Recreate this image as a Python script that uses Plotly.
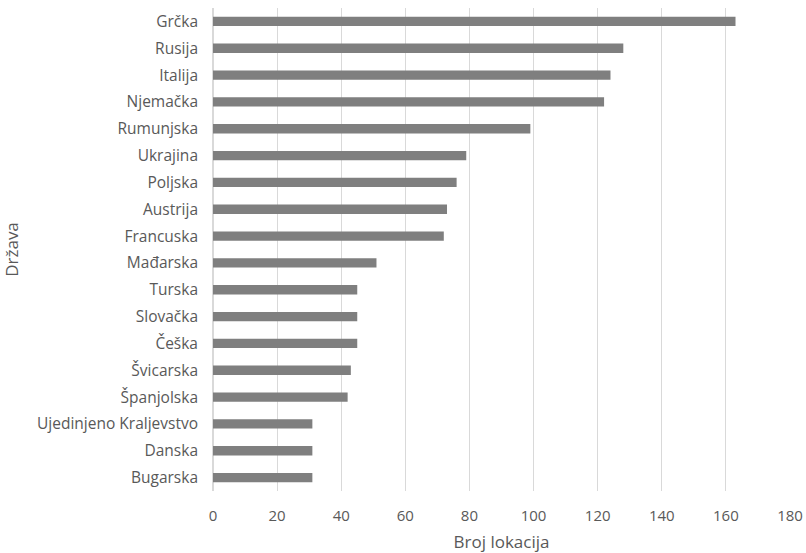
import plotly.graph_objects as go

countries = ["Grčka", "Rusija", "Italija", "Njemačka", "Rumunjska", "Ukrajina", "Poljska",
             "Austrija", "Francuska", "Mađarska", "Turska", "Slovačka", "Češka", "Švicarska",
             "Španjolska", "Ujedinjeno Kraljevstvo", "Danska", "Bugarska"]
counts = [163, 128, 124, 122, 99, 79, 76, 73, 72, 51, 45, 45, 45, 43, 42, 31, 31, 31]
x_ticks = [0, 20, 40, 60, 80, 100, 120, 140, 160, 180]

FONT = "Open Sans"
TXT = "#595959"

fig = go.Figure(go.Bar(
    x=counts, y=countries, orientation="h",
    marker=dict(color="#7f7f7f", line=dict(width=0)),
))
fig.update_layout(
    width=806, height=553,
    margin=dict(l=213, r=16, t=8, b=62),
    paper_bgcolor="white", plot_bgcolor="white",
    bargap=0.65,
    showlegend=False,
    font=dict(family=FONT, size=15, color=TXT),
)
fig.update_xaxes(
    range=[0, 180], tickvals=x_ticks, showgrid=True, gridcolor="#d9d9d9", gridwidth=1,
    zeroline=True, zerolinecolor="#d9d9d9", showline=False, automargin=False,
    ticklabelstandoff=14,
    title=dict(text="Broj lokacija", font=dict(family=FONT, size=17, color=TXT), standoff=15),
    tickfont=dict(family=FONT, size=15, color=TXT),
)
fig.update_yaxes(
    categoryorder="array", categoryarray=countries[::-1],
    showgrid=False, zeroline=False, showline=False, automargin=False,
    ticklabelstandoff=14,
    title=dict(text="Država", font=dict(family=FONT, size=17, color=TXT), standoff=15),
    tickfont=dict(family=FONT, size=15.5, color=TXT),
)
# remove the page's default body margin so the figure fills the window exactly
fig.write_html(
    "out.html",
    config={"displayModeBar": False},
    post_script="document.body.style.margin='0';document.body.style.overflow='hidden';",
)
